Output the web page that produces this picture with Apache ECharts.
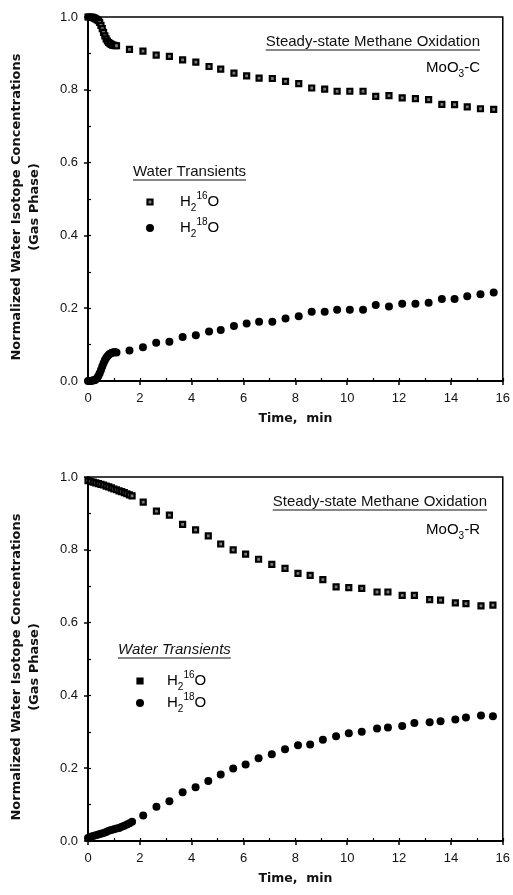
<!DOCTYPE html>
<html>
<head>
<meta charset="utf-8">
<script src="https://cdn.jsdelivr.net/npm/echarts@6/dist/echarts.min.js"></script>
<style>
  html, body { margin: 0; padding: 0; background: #fff; }
  #chart { width: 513px; height: 895px; }
</style>
</head>
<body>
<div id="chart"></div>
<script>
// ---- Water isotope transients, MoO3-C catalyst (upper panel) ----
const timeC = [
  0, 0.05, 0.1, 0.15, 0.2, 0.25, 0.3, 0.35, 0.4, 0.45, 0.5, 0.55, 0.6, 0.65, 0.7, 0.75,
  0.8, 0.85, 0.9, 0.95, 1.0, 1.05, 1.1,
  1.6, 2.12, 2.63, 3.14, 3.65, 4.16, 4.67, 5.12, 5.63, 6.12, 6.6, 7.11, 7.62, 8.13, 8.63,
  9.13, 9.61, 10.1, 10.61, 11.1, 11.61, 12.12, 12.63, 13.14, 13.65, 14.14, 14.63, 15.14, 15.65
];
const h2o16C = [
  1.0, 1.0, 0.999, 1.0, 0.998, 0.997, 0.995, 0.993, 0.99, 0.985, 0.977, 0.968, 0.958, 0.948,
  0.94, 0.934, 0.93, 0.927, 0.925, 0.923, 0.922, 0.921, 0.921,
  0.911, 0.906, 0.895, 0.892, 0.882, 0.876, 0.864, 0.857, 0.846, 0.838, 0.832, 0.831, 0.823,
  0.817, 0.805, 0.802, 0.796, 0.796, 0.796, 0.782, 0.784, 0.778, 0.776, 0.773, 0.760, 0.759,
  0.753, 0.748, 0.746
];
const h2o18C = [
  0, 0, 0, 0.001, 0.002, 0.002, 0.004, 0.008, 0.014, 0.021, 0.03, 0.04, 0.049, 0.057, 0.063,
  0.068, 0.072, 0.075, 0.077, 0.078, 0.079, 0.079, 0.078,
  0.084, 0.093, 0.105, 0.108, 0.121, 0.126, 0.136, 0.140, 0.151, 0.158, 0.163, 0.163, 0.172,
  0.178, 0.190, 0.190, 0.196, 0.196, 0.196, 0.209, 0.205, 0.212, 0.212, 0.215, 0.225, 0.225,
  0.233, 0.238, 0.243
];

// ---- Water isotope transients, MoO3-R catalyst (lower panel) ----
const timeR = [
  0, 0.1, 0.2, 0.3, 0.4, 0.5, 0.6, 0.7, 0.8, 0.9, 1.0, 1.1, 1.2, 1.3, 1.4, 1.5, 1.6, 1.7,
  2.13, 2.64, 3.14, 3.65, 4.15, 4.64, 5.12, 5.6, 6.08, 6.58, 7.09, 7.6, 8.1, 8.57, 9.06, 9.57,
  10.06, 10.56, 11.15, 11.57, 12.12, 12.59, 13.18, 13.6, 14.17, 14.58, 15.16, 15.62
];
const h2o16R = [
  0.990, 0.988, 0.986, 0.984, 0.982, 0.980, 0.978, 0.975, 0.973, 0.970, 0.967, 0.965, 0.962,
  0.960, 0.957, 0.954, 0.951, 0.948,
  0.931, 0.906, 0.895, 0.870, 0.855, 0.838, 0.816, 0.800, 0.788, 0.774, 0.760, 0.749, 0.735,
  0.730, 0.718, 0.698, 0.696, 0.694, 0.684, 0.684, 0.675, 0.675, 0.663, 0.662, 0.654, 0.652,
  0.646, 0.648
];
const h2o18R = [
  0.008, 0.012, 0.014, 0.016, 0.018, 0.020, 0.022, 0.025, 0.028, 0.030, 0.032, 0.034, 0.036,
  0.039, 0.042, 0.045, 0.049, 0.053,
  0.070, 0.094, 0.109, 0.134, 0.148, 0.165, 0.183, 0.199, 0.210, 0.227, 0.238, 0.252, 0.263,
  0.265, 0.278, 0.288, 0.296, 0.300, 0.309, 0.312, 0.316, 0.324, 0.326, 0.329, 0.334, 0.339,
  0.345, 0.343
];

// Axis ranges and tick steps
const timeRange = [0, 16];
const timeStep = 2;
const timeMinorStep = 1;
const concRange = [0, 1];
const concStep = 0.2;
const concMinorStep = 0.1;

const panelLabels = ['C', 'R'];
const seriesNames = ['H2 16O', 'H2 18O'];

// ---- layout ----
const SANS = 'Liberation Sans, Arial, Helvetica, sans-serif';
const BOLD = 'DejaVu Sans, Liberation Sans, sans-serif';
const gridLeft = 86, gridWidth = 418, gridHeight = 364;
const gridTops = [17, 477];
const gridRightX = gridLeft + gridWidth;

const measure = document.createElement('canvas').getContext('2d');
function textWidth(str, font) { measure.font = font; return measure.measureText(str).width; }

function zip(xs, ys) { return xs.map((x, i) => [x, ys[i]]); }

const squareStyle = { color: '#7a7a7a', borderColor: '#000', borderWidth: 2.2, opacity: 1 };
const circleStyle = { color: '#000', opacity: 1 };

const richIso = {
  n: { fontSize: 15, fontFamily: SANS, lineHeight: 22, verticalAlign: 'middle', color: '#111' },
  sub: { fontSize: 10, fontFamily: SANS, verticalAlign: 'bottom', color: '#111' },
  sup: { fontSize: 10, fontFamily: SANS, verticalAlign: 'top', color: '#111' }
};

const grids = [], xAxes = [], yAxes = [], series = [], graphics = [];

gridTops.forEach((top, p) => {
  grids.push({ left: gridLeft, top: top, width: gridWidth, height: gridHeight,
               show: true, borderColor: '#000', borderWidth: 1.5 });

  // main axes: labels and outward ticks
  xAxes.push({
    gridIndex: p, type: 'value', min: timeRange[0], max: timeRange[1], interval: timeStep,
    axisLine: { show: true, lineStyle: { color: '#000', width: 2 } },
    axisTick: { show: true, inside: false, length: 4, lineStyle: { color: '#000', width: 1.5 } },
    axisLabel: { margin: 11, fontSize: 13, fontFamily: SANS, color: '#111' },
    splitLine: { show: false },
    name: 'Time,  min', nameLocation: 'middle', nameGap: 31,
    nameTextStyle: { fontFamily: BOLD, fontWeight: 'bold', fontSize: 12.5, color: '#111' }
  });
  yAxes.push({
    gridIndex: p, type: 'value', min: concRange[0], max: concRange[1], interval: concStep,
    axisLine: { show: true, lineStyle: { color: '#000', width: 2 } },
    axisTick: { show: true, inside: false, length: 4, lineStyle: { color: '#000', width: 1.5 } },
    axisLabel: { margin: 10, fontSize: 13, fontFamily: SANS, color: '#111',
                 formatter: v => v.toFixed(1) },
    splitLine: { show: false },
    name: 'Normalized Water Isotope Concentrations\n(Gas Phase)',
    nameLocation: 'middle', nameRotate: 90, nameGap: 44,
    nameTextStyle: { fontFamily: BOLD, fontWeight: 'bold', fontSize: 13, lineHeight: 18,
                     color: '#111', padding: [0, 16, 0, 0] }
  });
});

// minor axes: short inward ticks only
gridTops.forEach((top, p) => {
  xAxes.push({
    gridIndex: p, type: 'value', position: 'bottom', min: timeRange[0], max: timeRange[1],
    interval: timeMinorStep,
    axisLine: { show: false }, axisLabel: { show: false }, splitLine: { show: false },
    axisTick: { show: true, inside: true, length: 3, lineStyle: { color: '#000', width: 1.2 } }
  });
  yAxes.push({
    gridIndex: p, type: 'value', position: 'left', min: concRange[0], max: concRange[1],
    interval: concMinorStep,
    axisLine: { show: false }, axisLabel: { show: false }, splitLine: { show: false },
    axisTick: { show: true, inside: true, length: 3, lineStyle: { color: '#000', width: 1.2 } }
  });
});

const panelData = [[timeC, h2o16C, h2o18C], [timeR, h2o16R, h2o18R]];
panelData.forEach(([t, v16, v18], p) => {
  series.push({
    type: 'scatter', name: seriesNames[0] + ' ' + panelLabels[p], xAxisIndex: p, yAxisIndex: p,
    data: zip(t, v16), symbol: 'rect', symbolSize: 5, itemStyle: squareStyle,
    clip: false, silent: true
  });
  series.push({
    type: 'scatter', name: seriesNames[1] + ' ' + panelLabels[p], xAxisIndex: p, yAxisIndex: p,
    data: zip(t, v18), symbol: 'circle', symbolSize: 8, itemStyle: circleStyle,
    clip: false, silent: true
  });
});

// ---- annotations and legends ----
function addText(x, y, text, font, align, italic) {
  graphics.push({
    type: 'text', silent: true,
    style: { x: x, y: y, text: text, font: (italic ? 'italic ' : '') + font, fill: '#111',
             align: align, verticalAlign: 'middle', textAlign: align, textVerticalAlign: 'middle' }
  });
}
function addUnderline(x1, x2, y) {
  graphics.push({ type: 'line', silent: true,
    shape: { x1: x1, y1: y, x2: x2, y2: y }, style: { stroke: '#111', lineWidth: 1.2 } });
}
function addRich(x, y, text, align) {
  graphics.push({
    type: 'text', silent: true,
    style: { x: x, y: y, text: text, rich: richIso, align: align, verticalAlign: 'middle',
             textAlign: align, textVerticalAlign: 'middle' }
  });
}

const titleFont = '15px ' + SANS;
const headerCfg = [
  { right: gridRightX - 24, titleY: 25, matY: 51, legX: 47, legY: 155, markX: 64, rowY: [185, 211], textX: 94, italic: false, solid: false },
  { right: gridRightX - 17, titleY: 25, matY: 53, legX: 32, legY: 173, markX: 54, rowY: [204, 226], textX: 81, italic: true, solid: true }
];

headerCfg.forEach((c, p) => {
  const top = gridTops[p];
  const title = 'Steady-state Methane Oxidation';
  const w = textWidth(title, titleFont);
  addText(c.right, top + c.titleY, title, titleFont, 'right', false);
  addUnderline(c.right - w, c.right, top + c.titleY + 8);

  addRich(gridRightX - 24, top + c.matY, '{n|MoO}{sub|3}{n|-' + panelLabels[p] + '}', 'right');

  const legTitle = 'Water Transients';
  const lf = (c.italic ? 'italic ' : '') + titleFont;
  const lw = textWidth(legTitle, lf);
  addText(gridLeft + c.legX, top + c.legY, legTitle, titleFont, 'left', c.italic);
  addUnderline(gridLeft + c.legX, gridLeft + c.legX + lw, top + c.legY + 8);

  const mx = gridLeft + c.markX;
  graphics.push({ type: 'rect', silent: true,
    shape: { x: mx - 2.5, y: top + c.rowY[0] - 2.5, width: 5, height: 5 },
    style: c.solid ? { fill: '#000', stroke: '#000', lineWidth: 2.2 }
                   : { fill: '#7a7a7a', stroke: '#000', lineWidth: 2.2 } });
  graphics.push({ type: 'circle', silent: true,
    shape: { cx: mx, cy: top + c.rowY[1], r: 4 }, style: { fill: '#000' } });
  addRich(gridLeft + c.textX, top + c.rowY[0], '{n|H}{sub|2}{sup|16}{n|O}', 'left');
  addRich(gridLeft + c.textX, top + c.rowY[1], '{n|H}{sub|2}{sup|18}{n|O}', 'left');
});

const chart = echarts.init(document.getElementById('chart'), null, { renderer: 'canvas' });
chart.setOption({
  animation: false,
  backgroundColor: '#fff',
  textStyle: { fontFamily: SANS },
  grid: grids,
  xAxis: xAxes,
  yAxis: yAxes,
  series: series,
  graphic: graphics
});
</script>
</body>
</html>
